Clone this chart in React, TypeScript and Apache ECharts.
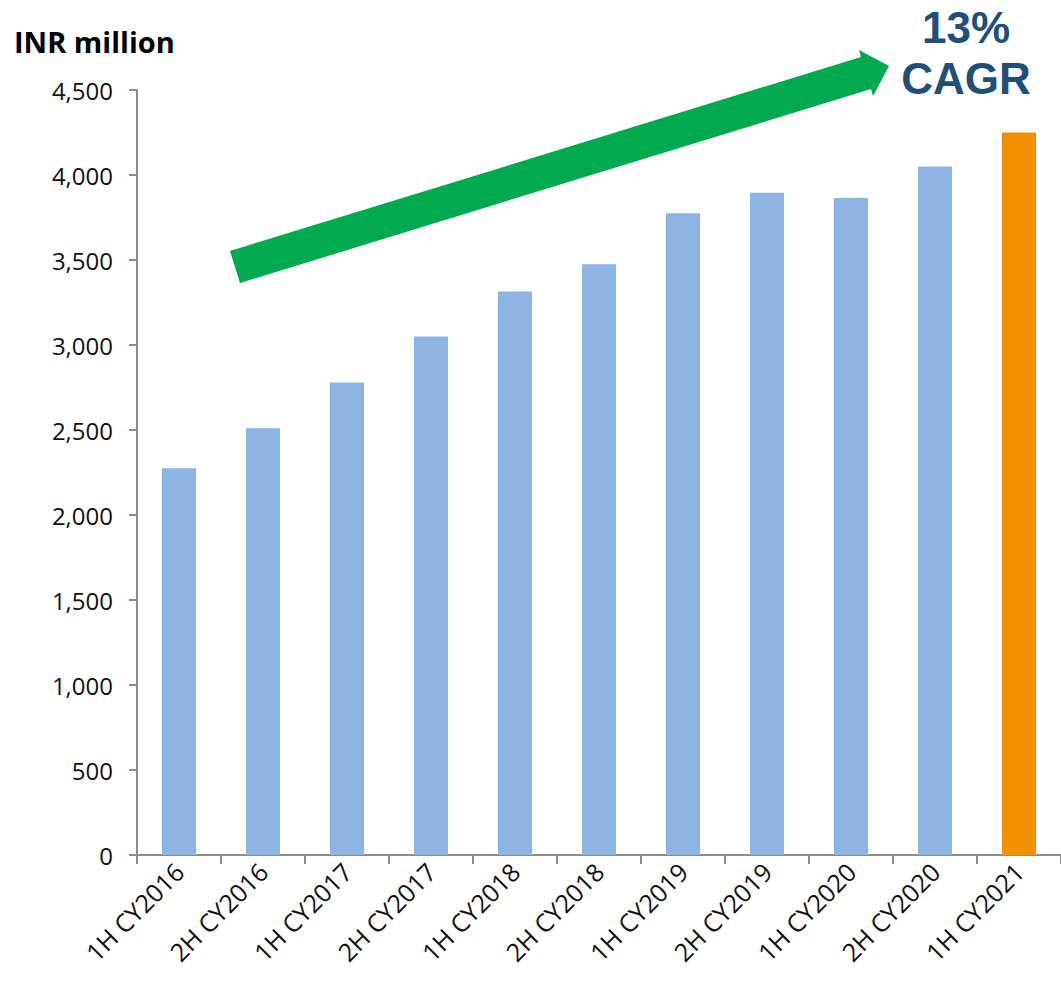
import { useEffect, useRef } from "react";
import * as echarts from "echarts";

const categories = [
  "1H CY2016", "2H CY2016", "1H CY2017", "2H CY2017", "1H CY2018", "2H CY2018",
  "1H CY2019", "2H CY2019", "1H CY2020", "2H CY2020", "1H CY2021",
];
const revenue = [2275, 2510, 2780, 3050, 3315, 3475, 3775, 3895, 3865, 4050, 4250];
const highlightIndex = 10;
const yMin = 0;
const yMax = 4500;
const yInterval = 500;
const unitLabel = "INR million";
const cagrLines = ["13%", "CAGR"];

const FONT = "'Open Sans', 'DejaVu Sans', sans-serif";
const CAGR_FONT = "'Liberation Sans', Arial, sans-serif";

export default function App() {
  const ref = useRef<HTMLDivElement>(null);
  useEffect(() => {
    if (!ref.current) return;
    const chart = echarts.init(ref.current, null, { renderer: "svg" });
    chart.setOption({
      animation: false,
      backgroundColor: "#ffffff",
      grid: { left: 137, top: 90, width: 930.6, height: 765, containLabel: false },
      xAxis: {
        type: "category",
        data: categories,
        axisLine: { show: true, lineStyle: { color: "#8c8c8c", width: 2 } },
        axisTick: { show: true, alignWithLabel: false, length: 9, lineStyle: { color: "#8c8c8c", width: 2 } },
        axisLabel: {
          rotate: 45,
          interval: 0,
          margin: 12,
          fontSize: 25,
          fontFamily: FONT,
          color: "#111",
        },
      },
      yAxis: {
        type: "value",
        min: yMin,
        max: yMax,
        interval: yInterval,
        splitLine: { show: false },
        axisLine: { show: true, lineStyle: { color: "#8c8c8c", width: 2 } },
        axisTick: { show: true, inside: false, length: 8, lineStyle: { color: "#8c8c8c", width: 2 } },
        axisLabel: {
          margin: 24,
          fontSize: 24,
          fontFamily: FONT,
          color: "#111",
          formatter: (v: number) => v.toLocaleString("en-US"),
        },
      },
      series: [
        {
          type: "bar",
          barWidth: 34,
          data: revenue.map((v, i) => ({
            value: v,
            itemStyle: { color: i === highlightIndex ? "#F29100" : "#8EB4E3" },
          })),
        },
      ],
      graphic: [
        {
          type: "text",
          left: 14,
          top: 27,
          style: {
            text: unitLabel,
            fontSize: 29,
            fontWeight: "bold",
            fontFamily: FONT,
            fill: "#000",
          },
        },
        {
          type: "polygon",
          shape: {
            points: [
              [230, 251],
              [861, 57],
              [859, 50],
              [889, 66],
              [873, 96],
              [871, 89],
              [240, 283],
            ],
          },
          style: { fill: "#00A84F" },
        },
        {
          type: "text",
          x: 966,
          y: 27,
          style: {
            text: cagrLines[0],
            fontSize: 44,
            fontWeight: "bold",
            fontFamily: CAGR_FONT,
            fill: "#1F4E79",
            align: "center",
            verticalAlign: "middle",
          },
        },
        {
          type: "text",
          x: 966,
          y: 78,
          style: {
            text: cagrLines[1],
            fontSize: 44,
            fontWeight: "bold",
            fontFamily: CAGR_FONT,
            fill: "#1F4E79",
            align: "center",
            verticalAlign: "middle",
          },
        },
      ],
    });
    return () => chart.dispose();
  }, []);
  return (
    <div
      ref={ref}
      style={{ position: "absolute", left: 0, top: 0, width: 1061, height: 987, overflow: "hidden" }}
    />
  );
}
